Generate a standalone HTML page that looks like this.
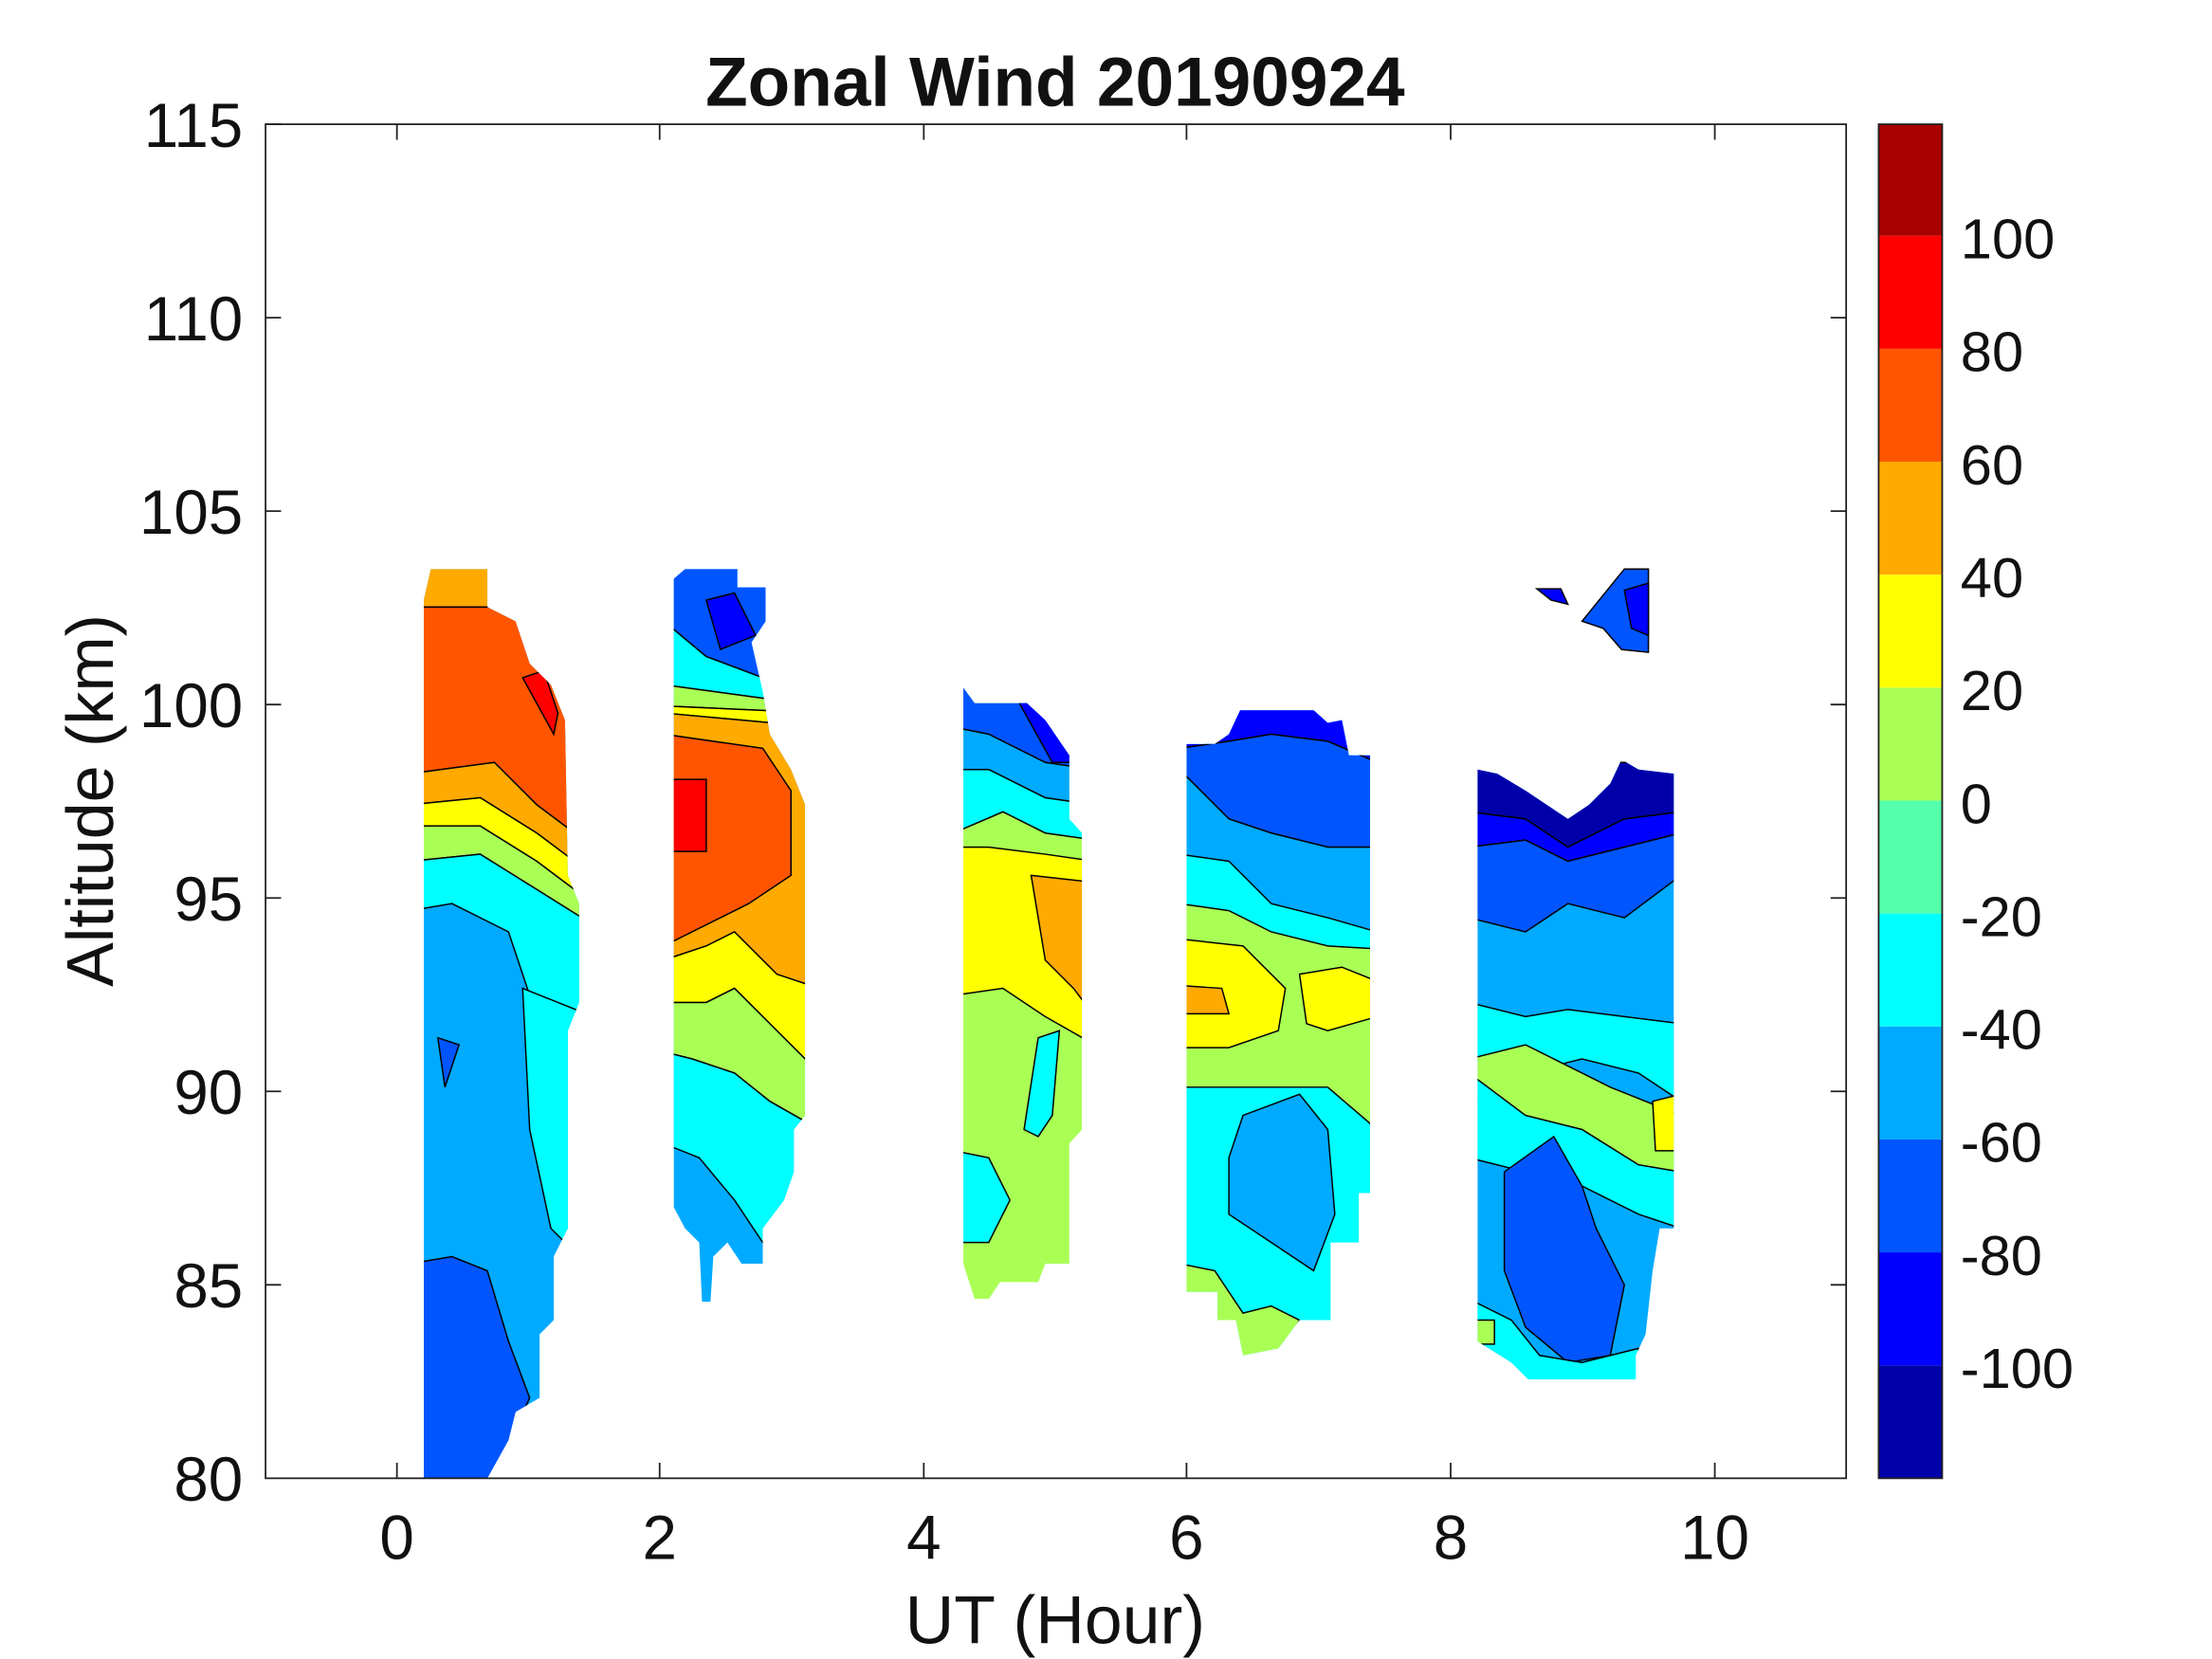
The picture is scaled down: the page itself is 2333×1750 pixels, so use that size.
<!DOCTYPE html>
<html><head><meta charset="utf-8"><style>
html,body{margin:0;padding:0;background:#fff;}
svg{display:block;}
text{font-family:"Liberation Sans",Arial,sans-serif;fill:#111;}
</style></head><body>
<svg width="2333" height="1750" viewBox="0 0 1566 1175" preserveAspectRatio="none" xmlns="http://www.w3.org/2000/svg">
<rect width="1566" height="1175" fill="#fff"/>
<defs>
<clipPath id="c1"><polygon points="300,425 305,403 345,403 345,430 365,440 375,470 390,485 400,510 402,620 410,640 410,710 402,730 402,870 392,890 392,935 382,945 382,990 365,1000 360,1020 345,1047 300,1047"/></clipPath>
<clipPath id="c2"><polygon points="477,410 485,403 522,403 522,416 542,416 542,440 532,455 540,490 545,520 560,545 570,570 570,790 562,800 562,830 555,850 540,870 540,895 525,895 515,880 505,890 503,922 497,922 495,880 485,870 477,855"/></clipPath>
<clipPath id="c3"><polygon points="682,487 690,498 727,498 740,510 757,535 757,580 766,590 766,800 757,810 757,895 740,895 735,908 708,908 700,920 690,920 682,895"/></clipPath>
<clipPath id="c4"><polygon points="840,527 860,527 870,520 878,503 930,503 940,512 950,510 955,535 970,535 970,845 962,845 962,880 942,880 942,935 920,935 905,955 880,960 875,935 862,935 862,915 840,915"/></clipPath>
<clipPath id="c5"><polygon points="1046,545 1060,548 1080,560 1110,580 1125,570 1140,555 1148,538 1160,545 1185,548 1185,870 1175,870 1170,900 1165,945 1158,960 1158,977 1082,977 1070,965 1046,950"/></clipPath>
</defs>
<g stroke="#000" stroke-width="1">
<g clip-path="url(#c1)">
<rect x="290" y="395" width="130" height="660" fill="#00AAFF"/>
<polygon points="290,395 420,395 420,430 290,430" fill="#FFAA00"/>
<polygon points="290,430 420,430 420,600 380,570 350,540 290,548" fill="#FF5500"/>
<polygon points="290,548 350,540 380,570 420,600 420,620 380,590 340,565 290,570" fill="#FFAA00"/>
<polygon points="290,570 340,565 380,590 420,620 420,640 380,610 340,585 290,585" fill="#FFFF00"/>
<polygon points="290,585 340,585 380,610 420,640 420,655 380,630 340,605 290,610" fill="#AAFF55"/>
<polygon points="290,610 340,605 380,630 420,655 420,760 400,740 380,720 360,660 320,640 290,645" fill="#00FFFF"/>
<polygon points="370,700 420,720 420,900 390,870 375,800" fill="#00FFFF"/>
<polygon points="290,895 320,890 345,900 360,950 375,990 350,1047 290,1047" fill="#0055FF"/>
<polygon points="370,480 385,475 395,505 392,520" fill="#FF0000"/>
<polygon points="310,735 325,740 315,770" fill="#0055FF"/>
</g>
<g clip-path="url(#c2)">
<rect x="470" y="395" width="110" height="540" fill="#00AAFF"/>
<polygon points="470,395 580,395 580,495 540,480 500,465 470,440" fill="#0055FF"/>
<polygon points="500,425 520,420 535,450 510,460" fill="#0000FF"/>
<polygon points="470,440 500,465 540,480 580,495 580,500 470,485" fill="#00FFFF"/>
<polygon points="470,485 580,500 580,505 470,500" fill="#AAFF55"/>
<polygon points="470,500 580,505 580,515 470,505" fill="#FFFF00"/>
<polygon points="470,505 580,515 580,700 550,690 520,660 500,670 470,680" fill="#FFAA00"/>
<polygon points="470,520 540,530 560,560 560,620 530,640 510,650 470,670" fill="#FF5500"/>
<polygon points="476,552 500,552 500,603 476,603" fill="#FF0000"/>
<polygon points="470,680 500,670 520,660 550,690 580,700 580,760 550,730 520,700 500,710 470,710" fill="#FFFF00"/>
<polygon points="470,710 500,710 520,700 550,730 580,760 580,800 545,780 520,760 490,750 470,745" fill="#AAFF55"/>
<polygon points="470,745 490,750 520,760 545,780 580,800 580,935 540,880 520,850 495,820 470,810" fill="#00FFFF"/>
</g>
<g clip-path="url(#c3)">
<rect x="675" y="480" width="100" height="450" fill="#AAFF55"/>
<polygon points="675,480 775,480 775,545 740,540 700,520 675,515" fill="#0055FF"/>
<polygon points="720,495 745,505 760,540 745,540" fill="#0000FF"/>
<polygon points="675,515 700,520 740,540 775,545 775,570 740,565 700,545 675,545" fill="#00AAFF"/>
<polygon points="675,545 700,545 740,565 775,570 775,595 740,590 710,575 675,590" fill="#00FFFF"/>
<polygon points="675,600 700,600 740,605 775,610 775,740 740,720 710,700 675,705" fill="#FFFF00"/>
<polygon points="730,620 775,625 775,720 760,700 740,680" fill="#FFAA00"/>
<polygon points="735,735 750,730 745,790 735,805 725,800" fill="#00FFFF"/>
<polygon points="675,815 700,820 715,850 700,880 675,880" fill="#00FFFF"/>
</g>
<g clip-path="url(#c4)">
<rect x="835" y="495" width="140" height="470" fill="#00FFFF"/>
<polygon points="835,495 975,495 975,540 940,525 900,520 870,525 835,530" fill="#0000FF"/>
<polygon points="835,530 870,525 900,520 940,525 975,540 975,600 940,600 900,590 870,580 835,545" fill="#0055FF"/>
<polygon points="835,545 870,580 900,590 940,600 975,600 975,660 940,650 900,640 870,610 835,605" fill="#00AAFF"/>
<polygon points="835,640 870,645 900,660 940,670 975,672 975,800 940,770 900,770 870,770 835,770" fill="#AAFF55"/>
<polygon points="835,665 880,670 910,700 905,730 870,742 835,742" fill="#FFFF00"/>
<polygon points="920,690 950,685 975,695 975,720 940,730 925,725" fill="#FFFF00"/>
<polygon points="835,698 865,700 870,718 835,718" fill="#FFAA00"/>
<polygon points="880,790 920,775 940,800 945,860 930,900 900,880 870,860 870,820" fill="#00AAFF"/>
<polygon points="835,895 860,900 880,930 900,925 920,935 905,965 835,965" fill="#AAFF55"/>
</g>
<g clip-path="url(#c5)">
<rect x="1040" y="540" width="150" height="445" fill="#00AAFF"/>
<polygon points="1040,540 1190,540 1190,575 1150,580 1110,600 1080,580 1040,575" fill="#0000AA"/>
<polygon points="1040,575 1080,580 1110,600 1150,580 1190,575 1190,590 1150,600 1110,610 1080,595 1040,600" fill="#0000FF"/>
<polygon points="1040,600 1080,595 1110,610 1150,600 1190,590 1190,620 1150,650 1110,640 1080,660 1040,650" fill="#0055FF"/>
<polygon points="1040,710 1080,720 1110,715 1150,720 1190,725 1190,780 1160,760 1120,750 1080,760 1040,750" fill="#00FFFF"/>
<polygon points="1040,750 1080,740 1110,755 1140,770 1190,790 1190,830 1160,825 1120,800 1080,790 1040,780" fill="#AAFF55"/>
<polygon points="1040,760 1080,790 1120,800 1160,825 1190,830 1190,870 1160,860 1120,840 1080,830 1040,820" fill="#00FFFF"/>
<polygon points="1065,830 1100,805 1120,840 1130,870 1150,910 1140,960 1110,965 1080,940 1065,900" fill="#0055FF"/>
<polygon points="1040,920 1070,935 1090,960 1120,965 1160,955 1160,990 1040,990" fill="#00FFFF"/>
<polygon points="1040,935 1058,935 1058,952 1040,952" fill="#AAFF55"/>
<polygon points="1170,780 1190,775 1190,815 1172,815" fill="#FFFF00"/>
</g>
<polygon points="1088,417 1105,417 1110,428 1098,425" fill="#0000FF"/>
<polygon points="1120,440 1150,403 1167,403 1167,462 1148,460 1135,445" fill="#0055FF"/>
<polygon points="1150,418 1167,413 1167,450 1155,445" fill="#0000FF"/>
</g>
<rect x="188" y="88" width="1119" height="959" fill="none" stroke="#222" stroke-width="1.2"/>
<g stroke="#222" stroke-width="1.2">
<path d="M281,1047v-11M467,1047v-11M654,1047v-11M840,1047v-11M1027,1047v-11M1214,1047v-11M281,88v11M467,88v11M654,88v11M840,88v11M1027,88v11M1214,88v11"/>
<path d="M188,88h11M188,225h11M188,362h11M188,499h11M188,636h11M188,773h11M188,910h11M1307,225h-11M1307,362h-11M1307,499h-11M1307,636h-11M1307,773h-11M1307,910h-11"/>
</g>
<g font-size="44" text-anchor="end">
<text x="172" y="104">115</text><text x="172" y="241">110</text><text x="172" y="378">105</text><text x="172" y="515">100</text><text x="172" y="652">95</text><text x="172" y="789">90</text><text x="172" y="926">85</text><text x="172" y="1063">80</text>
</g>
<g font-size="44" text-anchor="middle">
<text x="281" y="1104">0</text><text x="467" y="1104">2</text><text x="654" y="1104">4</text><text x="840" y="1104">6</text><text x="1027" y="1104">8</text><text x="1214" y="1104">10</text>
</g>
<text x="747" y="1164" font-size="48" text-anchor="middle">UT (Hour)</text>
<text transform="translate(80,567) rotate(-90)" font-size="47" text-anchor="middle">Altitude (km)</text>
<text x="747" y="75" font-size="49" font-weight="bold" text-anchor="middle" fill="#000">Zonal Wind 20190924</text>
<g>
<rect x="1330" y="967" width="45" height="80" fill="#0000AA"/>
<rect x="1330" y="887" width="45" height="80" fill="#0000FF"/>
<rect x="1330" y="807" width="45" height="80" fill="#0055FF"/>
<rect x="1330" y="727" width="45" height="80" fill="#00AAFF"/>
<rect x="1330" y="647" width="45" height="80" fill="#00FFFF"/>
<rect x="1330" y="567" width="45" height="80" fill="#55FFAA"/>
<rect x="1330" y="487" width="45" height="80" fill="#AAFF55"/>
<rect x="1330" y="407" width="45" height="80" fill="#FFFF00"/>
<rect x="1330" y="327" width="45" height="80" fill="#FFAA00"/>
<rect x="1330" y="247" width="45" height="80" fill="#FF5500"/>
<rect x="1330" y="167" width="45" height="80" fill="#FF0000"/>
<rect x="1330" y="88" width="45" height="79" fill="#AA0000"/>
<rect x="1330" y="88" width="45" height="959" fill="none" stroke="#222" stroke-width="1.2"/>
</g>
<g font-size="40">
<text x="1388" y="183">100</text><text x="1388" y="263">80</text><text x="1388" y="343">60</text><text x="1388" y="423">40</text><text x="1388" y="503">20</text><text x="1388" y="583">0</text><text x="1388" y="663">-20</text><text x="1388" y="743">-40</text><text x="1388" y="823">-60</text><text x="1388" y="903">-80</text><text x="1388" y="983">-100</text>
</g>
</svg>
</body></html>
